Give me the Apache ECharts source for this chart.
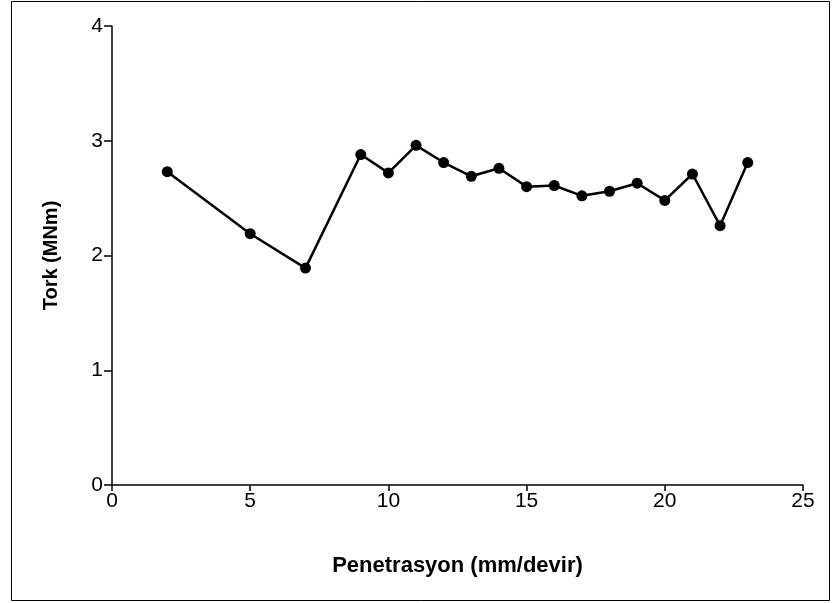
<!DOCTYPE html>
<html><head><meta charset="utf-8">
<script src="https://cdn.jsdelivr.net/npm/echarts@6/dist/echarts.min.js"></script>
<style>html,body{margin:0;padding:0;background:#fff}#c{width:832px;height:603px}</style>
</head><body><div id="c"></div>
<script>
const penetrasyon = [2, 5, 7, 9, 10, 11, 12, 13, 14, 15, 16, 17, 18, 19, 20, 21, 22, 23];
const tork = [2.73, 2.19, 1.89, 2.88, 2.72, 2.96, 2.81, 2.69, 2.76, 2.60, 2.61, 2.52, 2.56, 2.63, 2.48, 2.71, 2.26, 2.81];
const xTitle = 'Penetrasyon (mm/devir)';
const yTitle = 'Tork (MNm)';

const chart = echarts.init(document.getElementById('c'), null, {renderer: 'canvas'});
const font = '"Liberation Sans", Arial, sans-serif';
chart.setOption({
  animation: false,
  backgroundColor: '#fff',
  graphic: [{type: 'rect', shape: {x: 11.5, y: 1.5, width: 818, height: 599}, style: {fill: 'none', stroke: '#000', lineWidth: 1}, silent: true}],
  grid: {left: 112, right: 29, top: 26, bottom: 118, containLabel: false},
  xAxis: {
    type: 'value', min: 0, max: 25, interval: 5,
    name: xTitle, nameLocation: 'middle', nameGap: 70,
    nameTextStyle: {fontFamily: font, fontWeight: 'bold', fontSize: 22, color: '#000'},
    axisLine: {lineStyle: {color: '#000', width: 1.5}},
    axisTick: {show: true, length: 6, lineStyle: {color: '#000', width: 1.5}},
    axisLabel: {fontFamily: font, fontSize: 21, color: '#000', margin: 6},
    splitLine: {show: false}
  },
  yAxis: {
    type: 'value', min: 0, max: 4, interval: 1,
    name: yTitle, nameLocation: 'middle', nameGap: 51, nameRotate: 90,
    nameTextStyle: {fontFamily: font, fontWeight: 'bold', fontSize: 20, color: '#000'},
    axisLine: {show: true, lineStyle: {color: '#000', width: 1.5}},
    axisTick: {show: true, length: 8, lineStyle: {color: '#000', width: 1.5}},
    axisLabel: {fontFamily: font, fontSize: 21, color: '#000', margin: 9},
    splitLine: {show: false}
  },
  series: [{
    type: 'line',
    data: penetrasyon.map((x, i) => [x, tork[i]]),
    symbol: 'circle', symbolSize: 11,
    lineStyle: {color: '#000', width: 2.5},
    itemStyle: {color: '#000'}
  }]
});
</script></body></html>
